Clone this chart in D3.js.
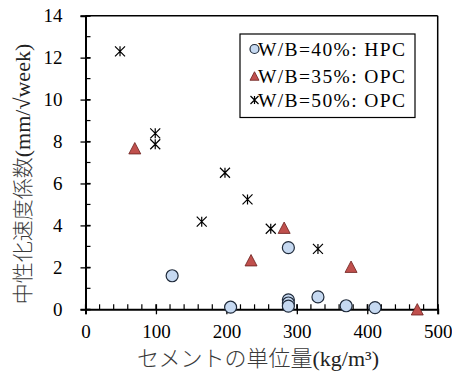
<!DOCTYPE html>
<html>
<head>
<meta charset="utf-8">
<script src="https://cdn.jsdelivr.net/npm/d3@7"></script>
<style>
  body { margin: 0; background: #fff; }
  svg text { font-family: "Liberation Serif", "Times New Roman", Times, "DejaVu Serif", serif; fill: #000; }
  .jp { font-family: "Noto Sans CJK JP", sans-serif; font-weight: 300; fill: #3a3a3a; }
</style>
</head>
<body>
<div id="chart"></div>
<script>
// W/B=40%: HPC  (cement content, neutralization rate coefficient)
const hpcX = [123, 206, 288, 288, 288, 288, 330, 370, 411];
const hpcY = [1.6, 0.1, 2.94, 0.45, 0.3, 0.15, 0.59, 0.17, 0.08];
// W/B=35%: OPC
const opc35X = [70, 235, 282, 377, 471];
const opc35Y = [7.68, 2.34, 3.89, 2.03, 0];
// W/B=50%: OPC
const opc50X = [49, 99, 99, 165, 198, 230, 263, 330];
const opc50Y = [12.3, 8.39, 7.87, 4.18, 6.51, 5.24, 3.84, 2.88];

const seriesNames = ["W/B=40%: HPC", "W/B=35%: OPC", "W/B=50%: OPC"];
const xTicks = [0, 100, 200, 300, 400, 500];
const yTicks = [0, 2, 4, 6, 8, 10, 12, 14];
const xTitle = ["セメントの単位量", "(kg/m³)"];
const yTitle = ["中性化速度係数", "(mm/√week)"];

const width = 452, height = 372;
const plot = {left: 85.5, top: 15.7, right: 437.7, bottom: 309.3};
const serif = '"Liberation Serif", "Times New Roman", Times, "DejaVu Serif", serif';

const svg = d3.select("#chart").append("svg")
  .attr("width", width)
  .attr("height", height);

const xScale = d3.scaleLinear().domain([0, 500]).range([plot.left, plot.right]);
const yScale = d3.scaleLinear().domain([0, 14]).range([plot.bottom, plot.top]);

//frame: top and right
svg.append("line").attr("x1", plot.left).attr("y1", plot.top).attr("x2", plot.right).attr("y2", plot.top)
  .attr("stroke", "#000").attr("stroke-width", 1.5);
svg.append("line").attr("x1", plot.right).attr("y1", plot.top).attr("x2", plot.right).attr("y2", plot.bottom)
  .attr("stroke", "#000").attr("stroke-width", 1.5);

//minor ticks (inside)
const xMinor = d3.range(0, 501, 20);
svg.append("g").selectAll("line").data(xMinor).join("line")
  .attr("x1", d => xScale(d)).attr("x2", d => xScale(d))
  .attr("y1", plot.bottom).attr("y2", plot.bottom - 5)
  .attr("stroke", "#000").attr("stroke-width", 1.2);
const yMinor = d3.range(0, 15, 1);
svg.append("g").selectAll("line").data(yMinor).join("line")
  .attr("x1", plot.left).attr("x2", plot.left + 5)
  .attr("y1", d => yScale(d)).attr("y2", d => yScale(d))
  .attr("stroke", "#000").attr("stroke-width", 1.2);

//x axis
const xAxis = svg.append("g")
  .attr("transform", "translate(0," + plot.bottom + ")")
  .call(d3.axisBottom(xScale).tickValues(xTicks).tickSize(5).tickPadding(10));
xAxis.attr("font-family", null);
xAxis.select(".domain").attr("stroke-width", 2);
xAxis.selectAll(".tick line").attr("y1", -5).attr("stroke-width", 1.3);
xAxis.selectAll("text").attr("font-size", 19).style("font-family", serif);

//y axis
const yAxis = svg.append("g")
  .attr("transform", "translate(" + plot.left + ",0)")
  .call(d3.axisLeft(yScale).tickValues(yTicks).tickSize(5).tickPadding(18));
yAxis.attr("font-family", null);
yAxis.select(".domain").attr("stroke-width", 2);
yAxis.selectAll(".tick line").attr("x1", 5).attr("stroke-width", 1.3);
yAxis.selectAll("text").attr("font-size", 19).style("font-family", serif);

//axis titles: Japanese part in gothic, unit part in serif
const xt = svg.append("text")
  .attr("x", 258).attr("y", 366)
  .attr("text-anchor", "middle")
  .attr("font-size", 22);
xt.append("tspan").attr("class", "jp").text(xTitle[0]);
xt.append("tspan").style("font-family", serif).attr("fill", "#222").attr("font-size", 22).text(xTitle[1]);

const yt = svg.append("text")
  .attr("transform", "translate(30,174) rotate(-90)")
  .attr("text-anchor", "middle")
  .attr("font-size", 21);
yt.append("tspan").attr("class", "jp").text(yTitle[0]);
yt.append("tspan").style("font-family", serif).attr("fill", "#222").attr("font-size", 22).text(yTitle[1]);

//markers
function drawCircle(g, x, y, r) {
  g.append("circle").attr("cx", x).attr("cy", y).attr("r", r)
    .attr("fill", "#c6d9f1").attr("stroke", "#1f2a3a").attr("stroke-width", 1.2);
}
function drawTriangle(g, x, y, s) {
  const h = s * 0.95;
  g.append("path")
    .attr("d", "M" + x + "," + (y - h / 2) + "L" + (x + s / 2) + "," + (y + h / 2) + "L" + (x - s / 2) + "," + (y + h / 2) + "Z")
    .attr("fill", "#c0504d").attr("stroke", "#6b1f1d").attr("stroke-width", 0.8);
}
function drawStar(g, x, y, s) {
  const a = s / 2;
  g.append("path")
    .attr("d", "M" + (x - a) + "," + (y - a) + "L" + (x + a) + "," + (y + a) +
      "M" + (x - a) + "," + (y + a) + "L" + (x + a) + "," + (y - a) +
      "M" + x + "," + (y - a) + "L" + x + "," + (y + a))
    .attr("fill", "none").attr("stroke", "#000").attr("stroke-width", 1.2);
}

const marks = svg.append("g");
opc50X.forEach((v, i) => drawStar(marks, xScale(v), yScale(opc50Y[i]), 10));
opc35X.forEach((v, i) => drawTriangle(marks, xScale(v), yScale(opc35Y[i]), 12));
hpcX.forEach((v, i) => drawCircle(marks, xScale(v), yScale(hpcY[i]), 6));

//legend
const legend = svg.append("g");
legend.append("rect").attr("x", 240).attr("y", 34).attr("width", 175).attr("height", 83.5)
  .attr("fill", "#fff").attr("stroke", "#000").attr("stroke-width", 1.2);
const rowY = [49, 76, 100];
drawCircle(legend, 254.5, rowY[0], 4.5);
drawTriangle(legend, 254.5, rowY[1], 9);
drawStar(legend, 254.5, rowY[2], 8);
seriesNames.forEach((name, i) => {
  legend.append("text")
    .attr("x", 258).attr("y", rowY[i] + 6.5)
    .attr("font-size", 19.5)
    .attr("textLength", 147).attr("lengthAdjust", "spacing")
    .style("font-family", serif)
    .text(name);
});
</script>
</body>
</html>
